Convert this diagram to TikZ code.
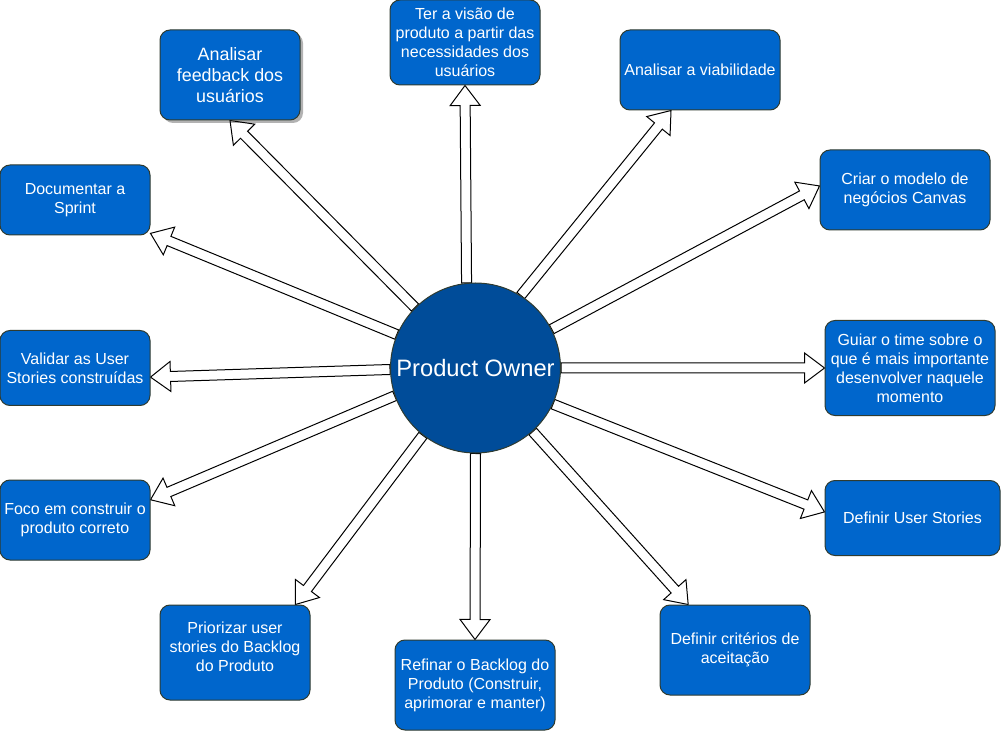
\documentclass[tikz,border=0pt]{standalone}
\usepackage{fontspec}
\setmainfont{Liberation Sans}
\usetikzlibrary{calc,backgrounds,shadows}
\definecolor{boxblue}{HTML}{0066CC}
\definecolor{circblue}{HTML}{004C99}
\definecolor{edgecol}{HTML}{2F3B30}
\newcommand\poarrow[2]{%
  \coordinate (h) at ($(#2)!15pt!(#1)$);
  \draw[blockarrow] ($(#1)!3.75pt!90:(#2)$) -- ($(h)!3.75pt!-90:(#1)$) -- ($(h)!11.25pt!-90:(#1)$) -- (#2) -- ($(h)!11.25pt!90:(#1)$) -- ($(h)!3.75pt!90:(#1)$) -- ($(#1)!3.75pt!-90:(#2)$) -- cycle;}
\begin{document}
\begin{tikzpicture}[x=0.75pt,y=-0.75pt,
  box/.style={rectangle, rounded corners=7.5pt, fill=boxblue, draw=edgecol, line width=0.75pt,
    text=white, align=center, inner sep=0pt, font=\fontsize{12}{14.25}\selectfont},
  blockarrow/.style={fill=white, draw=black, line width=0.75pt, line join=miter},
  ]
\useasboundingbox (0,0) rectangle (1001,731);

\node[circle, fill=circblue, draw=edgecol, line width=0.75pt, minimum size=127.5pt, inner sep=0pt,
  text=white, font=\fontsize{17.8}{21}\selectfont] (po) at (475.5,368) {Product Owner};

\node[box, minimum width=105pt, minimum height=67.5pt, font=\fontsize{13.4}{15.75}\selectfont,
  drop shadow={shadow xshift=2.25pt, shadow yshift=-2.25pt, fill=black, opacity=0.3}]
  (b1) at (230,75) {Analisar\\feedback dos\\usuários};
\node[box, minimum width=112.5pt, minimum height=63.75pt] (b2) at (465,42.5)
  {Ter a visão de\\produto a partir das\\necessidades dos\\usuários};
\node[box, minimum width=120pt, minimum height=60pt] (b3) at (700,70) {Analisar a viabilidade};
\node[box, minimum width=127.5pt, minimum height=60pt] (b4) at (905,190) {Criar o modelo de\\negócios Canvas};
\node[box, minimum width=127.5pt, minimum height=71.25pt] (b5) at (910,368)
  {Guiar o time sobre o\\que é mais importante\\desenvolver naquele\\momento};
\node[box, minimum width=131.25pt, minimum height=56.25pt] (b6) at (912.5,518) {Definir User Stories};
\node[box, minimum width=112.5pt, minimum height=67.5pt] (b7) at (735,650) {Definir critérios de\\aceitação};
\node[box, minimum width=120pt, minimum height=67.5pt] (b8) at (475,685)
  {Refinar o Backlog do\\Produto (Construir,\\aprimorar e manter)};
\node[box, minimum width=112.5pt, minimum height=71.25pt, text depth=9pt] (b9) at (235,652.5)
  {Priorizar user\\stories do Backlog\\do Produto};
\node[box, minimum width=112.5pt, minimum height=60pt] (b10) at (75,520) {Foco em construir o\\produto correto};
\node[box, minimum width=112.5pt, minimum height=56.25pt] (b11) at (75,368) {Validar as User\\Stories construídas};
\node[box, minimum width=112.5pt, minimum height=52.5pt] (b12) at (75,200) {Documentar a\\Sprint};

\coordinate (t3) at ($(b3.south west)!0.32!(b3.south east)$);
\coordinate (t4) at ($(b4.north west)!0.45!(b4.south west)$);
\coordinate (t6) at ($(b6.north west)!0.42!(b6.south west)$);
\coordinate (t7) at ($(b7.north west)!0.19!(b7.north east)$);
\coordinate (t9) at ($(b9.north west)!0.9!(b9.north east)$);
\coordinate (t10) at ($(b10.north east)!0.25!(b10.south east)$);
\coordinate (t11) at ($(b11.north east)!0.62!(b11.south east)$);
\coordinate (t12) at ($(b12.north east)!0.97!(b12.south east)$);

\begin{pgfonlayer}{background}
\fill[white] (0,0) rectangle (1001,731);
\poarrow{po.135}{b1.south}
\poarrow{po.96}{b2.south}
\poarrow{po.58}{t3}
\poarrow{po.27}{t4}
\poarrow{po.0}{b5.west}
\poarrow{po.-25.5}{t6}
\poarrow{po.-48.7}{t7}
\poarrow{po.-90}{b8.north}
\poarrow{po.232.2}{t9}
\poarrow{po.199.8}{t10}
\poarrow{po.181.5}{t11}
\poarrow{po.157}{t12}
\end{pgfonlayer}
\end{tikzpicture}
\end{document}
